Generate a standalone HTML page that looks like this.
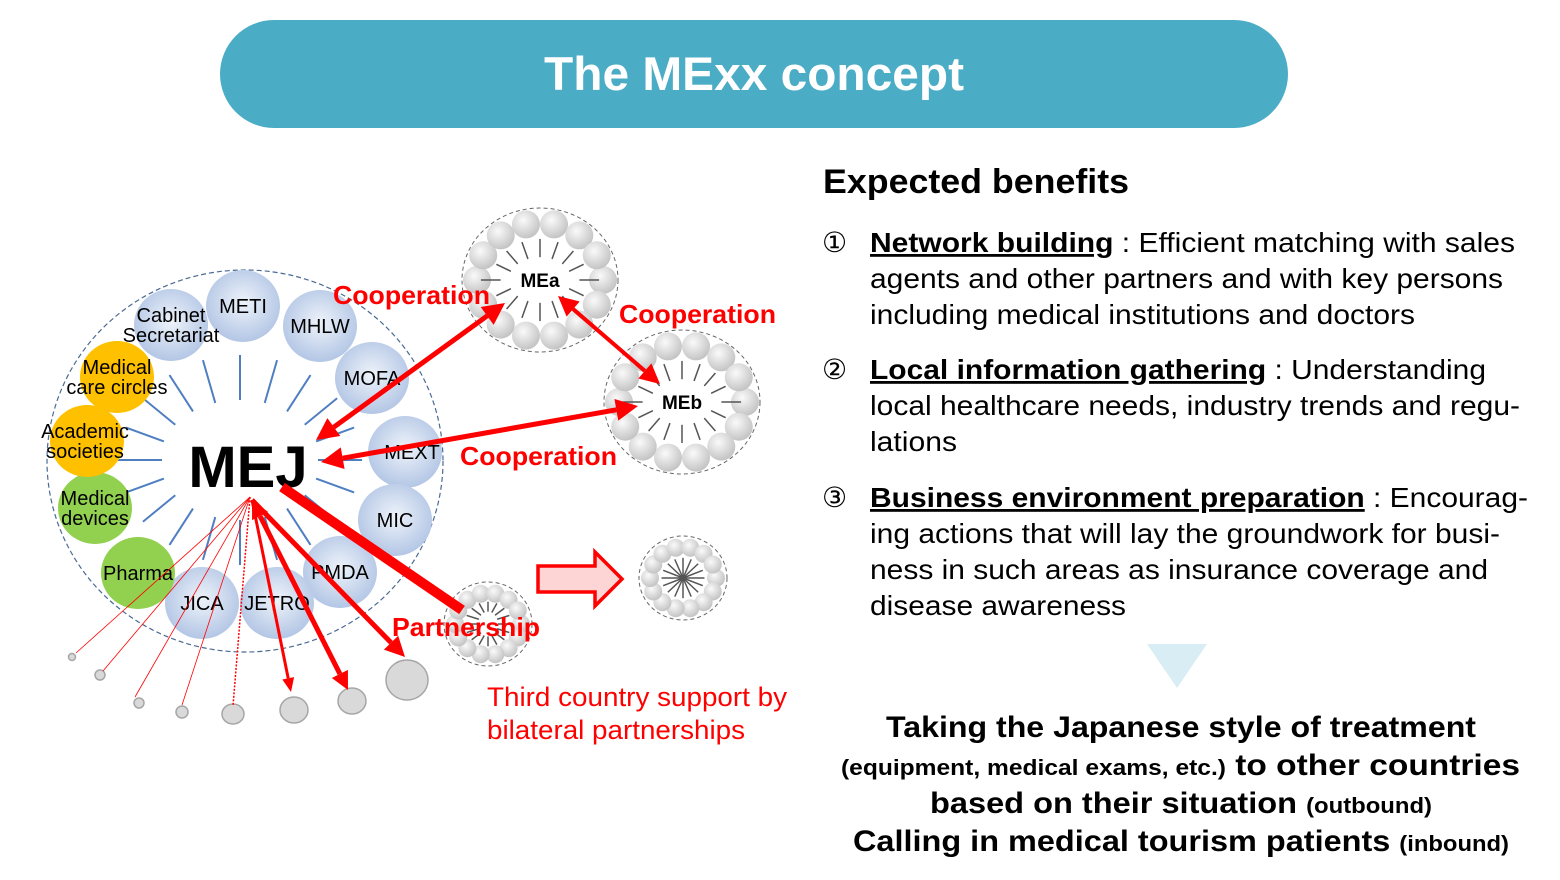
<!DOCTYPE html>
<html><head><meta charset="utf-8"><style>
html,body{margin:0;padding:0;background:#fff;width:1560px;height:880px;overflow:hidden}
svg{display:block}
text{font-family:"Liberation Sans",Arial,sans-serif}
</style></head><body>
<svg id="s" width="1560" height="880" viewBox="0 0 1560 880" xmlns="http://www.w3.org/2000/svg">
<defs>
<radialGradient id="bl" cx="50%" cy="45%" r="55%"><stop offset="0" stop-color="#eef3fa"/><stop offset="1" stop-color="#b3c6e5"/></radialGradient>
<radialGradient id="gr" cx="40%" cy="35%" r="65%"><stop offset="0" stop-color="#fafafa"/><stop offset="1" stop-color="#c4c4c4"/></radialGradient>
</defs>
<rect x="220" y="20" width="1068" height="108" rx="54" fill="#4bacc6"/>
<text x="754" y="90" font-size="47" font-weight="bold" fill="#fff" text-anchor="middle" textLength="420" lengthAdjust="spacingAndGlyphs">The MExx concept</text>

<ellipse cx="245" cy="461" rx="198" ry="191" fill="none" stroke="#4a6a94" stroke-width="1.2" stroke-dasharray="5,3"/>
<g id="spokes" stroke="#4f7fc0" stroke-width="2"></g>
<g id="orgs"></g>
<g id="rings"></g>

<text x="248" y="487" font-size="58" font-weight="bold" text-anchor="middle" fill="#000">MEJ</text>

<g fill="#d9d9d9" stroke="#a6a6a6" stroke-width="1.5">
<circle cx="72" cy="657" r="3.5"/><circle cx="100" cy="675" r="5"/><circle cx="139" cy="703" r="5"/><circle cx="182" cy="712" r="6"/>
<ellipse cx="233" cy="714" rx="11" ry="10"/><ellipse cx="294" cy="710" rx="14" ry="13"/><ellipse cx="352" cy="701" rx="14" ry="13"/><ellipse cx="407" cy="680" rx="21" ry="20"/>
</g>
<g stroke="#ff0000" stroke-width="0.8" fill="none">
<line x1="250" y1="497" x2="76" y2="653"/><line x1="250" y1="497" x2="103" y2="671"/><line x1="250" y1="497" x2="135" y2="697"/><line x1="250" y1="497" x2="182" y2="705"/>
<line x1="250" y1="497" x2="233" y2="706" stroke-dasharray="2,1.5" stroke-width="1.5"/>
</g>
<g fill="#ff0000" stroke="none" id="ah"></g>
<g id="arr" stroke="#ff0000" fill="none"></g>

<path d="M538,566 L595,566 L595,552 L622,579 L595,606 L595,592 L538,592 Z" fill="#fdd5d5" stroke="#ff0000" stroke-width="3.5" stroke-linejoin="miter"/>

<g font-weight="bold" fill="#ff0000" font-size="26">
<text x="333" y="304" textLength="157" lengthAdjust="spacingAndGlyphs">Cooperation</text>
<text x="619" y="323" textLength="157" lengthAdjust="spacingAndGlyphs">Cooperation</text>
<text x="460" y="465" textLength="157" lengthAdjust="spacingAndGlyphs">Cooperation</text>
<text x="392" y="636" textLength="148" lengthAdjust="spacingAndGlyphs">Partnership</text>
</g>
<g fill="#ff0000" font-size="27">
<text x="487" y="706" textLength="300" lengthAdjust="spacingAndGlyphs">Third country support by</text>
<text x="487" y="739" textLength="258" lengthAdjust="spacingAndGlyphs">bilateral partnerships</text>
</g>

<text x="823" y="193" font-size="34" font-weight="bold" textLength="306" lengthAdjust="spacingAndGlyphs">Expected benefits</text>
<g font-size="28" fill="#000">
<text x="822" y="252">①</text>
<text x="870" y="252" textLength="645" lengthAdjust="spacingAndGlyphs"><tspan font-weight="bold" text-decoration="underline">Network building</tspan> : Efficient matching with sales</text>
<text x="870" y="288" textLength="633" lengthAdjust="spacingAndGlyphs">agents and other partners and with key persons</text>
<text x="870" y="324" textLength="545" lengthAdjust="spacingAndGlyphs">including medical institutions and doctors</text>
<text x="822" y="379">②</text>
<text x="870" y="379" textLength="616" lengthAdjust="spacingAndGlyphs"><tspan font-weight="bold" text-decoration="underline">Local information gathering</tspan> : Understanding</text>
<text x="870" y="415" textLength="650" lengthAdjust="spacingAndGlyphs">local healthcare needs, industry trends and regu-</text>
<text x="870" y="451" textLength="87" lengthAdjust="spacingAndGlyphs">lations</text>
<text x="822" y="507">③</text>
<text x="870" y="507" textLength="658" lengthAdjust="spacingAndGlyphs"><tspan font-weight="bold" text-decoration="underline">Business environment preparation</tspan> : Encourag-</text>
<text x="870" y="543" textLength="630" lengthAdjust="spacingAndGlyphs">ing actions that will lay the groundwork for busi-</text>
<text x="870" y="579" textLength="618" lengthAdjust="spacingAndGlyphs">ness in such areas as insurance coverage and</text>
<text x="870" y="615" textLength="256" lengthAdjust="spacingAndGlyphs">disease awareness</text>
</g>
<polygon points="1147,644 1207,644 1177,688" fill="#d9eef4"/>
<g font-weight="bold" fill="#000">
<text x="886" y="737" font-size="30" textLength="590" lengthAdjust="spacingAndGlyphs">Taking the Japanese style of treatment</text>
<text x="841" y="775" font-size="30" textLength="679" lengthAdjust="spacingAndGlyphs"><tspan font-size="22">(equipment, medical exams, etc.)</tspan> to other countries</text>
<text x="930" y="813" font-size="30" textLength="502" lengthAdjust="spacingAndGlyphs">based on their situation <tspan font-size="22">(outbound)</tspan></text>
<text x="853" y="851" font-size="30" textLength="656" lengthAdjust="spacingAndGlyphs">Calling in medical tourism patients <tspan font-size="22">(inbound)</tspan></text>
</g>
</svg>
<script>
var NS="http://www.w3.org/2000/svg";
function el(p,t,a,txt){var e=document.createElementNS(NS,t);for(var k in a)e.setAttribute(k,a[k]);if(txt!=null)e.textContent=txt;document.getElementById(p).appendChild(e);return e;}
var cx=240,cy=460;
for(var i=0;i<20;i++){var a=i*Math.PI*2/20;var c=Math.cos(a),s=Math.sin(a);
 if(Math.abs(s)<0.1) {el("spokes","line",{x1:cx+c*78,y1:cy,x2:cx+c*122,y2:cy});continue;}
 el("spokes","line",{x1:cx+c*80,y1:cy+s*60,x2:cx+c*120,y2:cy+s*105});}
var orgs=[["METI",243,306,"bl",["METI"],0],["Cab",171,325,"bl",["Cabinet","Secretariat"],0],["MHLW",320,326,"bl",["MHLW"],0],["MOFA",372,378,"bl",["MOFA"],0],
["MEXT",405,452,"bl",["MEXT"],7],["MIC",395,520,"bl",["MIC"],0],["PMDA",340,572,"bl",["PMDA"],0],["JETRO",277,603,"bl",["JETRO"],0],["JICA",202,603,"bl",["JICA"],0],
["Ph",138,573,"#92d050",["Pharma"],0],["MD",95,508,"#92d050",["Medical","devices"],0],["AS",87,441,"#ffc000",["Academic","societies"],-2],["MC",117,377,"#ffc000",["Medical","care circles"],0]];
orgs.forEach(function(o){el("orgs","ellipse",{cx:o[1],cy:o[2],rx:37,ry:36,fill:o[3]=="bl"?"url(#bl)":o[3]});});
orgs.forEach(function(o){var L=o[4];var y0=o[2]+7-(L.length-1)*10;L.forEach(function(t,j){el("orgs","text",{x:o[1]+o[5],y:y0+j*20,"font-size":20,"text-anchor":"middle",fill:"#000"},t);});});
function ring(x,y,rx,ry,br,n,rrx,rry,label,star){
 el("rings","ellipse",{cx:x,cy:y,rx:rx,ry:ry,fill:"#fff",stroke:"#666","stroke-width":1,"stroke-dasharray":"4,3"});
 for(var i=0;i<n;i++){var a=i*Math.PI*2/n;el("rings","circle",{cx:x+Math.cos(a)*rrx,cy:y+Math.sin(a)*rry,r:br,fill:"url(#gr)"});}
 var m=16;for(var i=0;i<m;i++){var a=i*Math.PI*2/m,c=Math.cos(a),s=Math.sin(a);
  if(star){el("rings","line",{x1:x,y1:y,x2:x+c*rrx*0.65,y2:y+s*rry*0.65,stroke:"#555","stroke-width":1.5});}
  else{var r1=label?0.5:0.3,r2=label?0.75:0.7;var k=label&&Math.abs(s)<0.2?1.25:1;el("rings","line",{x1:x+c*rrx*r1*k,y1:y+s*rry*0.4,x2:x+c*rrx*r2*k,y2:y+s*rry*0.72,stroke:"#555","stroke-width":1.5});}}
 if(label)el("rings","text",{x:x,y:y+7,"font-size":19,"font-weight":"bold","text-anchor":"middle"},label);
}
ring(540,280,78,72,14,14,63,57,"MEa");
ring(682,402,78,72,14,14,63,57,"MEb");
ring(488,624,44,42,9,14,33,31,null);
ring(683,578,44,42,9,14,33,31,null,true);
function head(x1,y1,x2,y2,L,W){var dx=x2-x1,dy=y2-y1,d=Math.hypot(dx,dy),ux=dx/d,uy=dy/d;
 var bx=x2-ux*L,by=y2-uy*L;el("ah","polygon",{points:x2+","+y2+" "+(bx-uy*W)+","+(by+ux*W)+" "+(bx+uy*W)+","+(by-ux*W)});return [bx,by];}
function arrow(x1,y1,x2,y2,w,L,W,dbl){var b=head(x1,y1,x2,y2,L,W);var a=[x1,y1];if(dbl)a=head(x2,y2,x1,y1,L,W);
 el("arr","line",{x1:a[0],y1:a[1],x2:b[0],y2:b[1],"stroke-width":w});}
arrow(316,440,505,303,5,22,11,true);
arrow(558,296,660,384,4,20,10,true);
arrow(321,462,638,406,5,22,11,true);
el("arr","line",{x1:282,y1:487,x2:462,y2:610,"stroke-width":10});
arrow(252,500,291,692,3,14,6,false);
arrow(252,500,348,690,5,18,9,true);
arrow(252,500,405,657,5,20,10,false);
</script>
</body></html>
